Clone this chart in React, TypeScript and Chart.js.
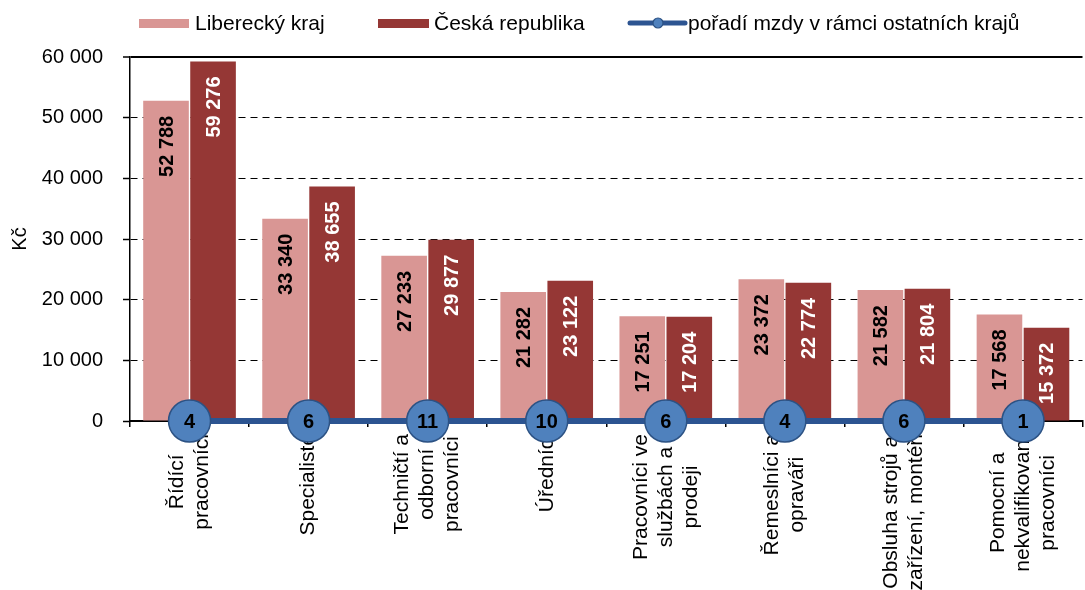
import React, { useEffect, useRef } from "react";
import { Chart, registerables } from "chart.js";

Chart.register(...registerables);

// ---------- data ----------
const categories: string[][] = [
  ["Řídící", "pracovníci"],
  ["Specialisté"],
  ["Techničtí a", "odborní", "pracovníci"],
  ["Úředníci"],
  ["Pracovníci ve", "službách a", "prodeji"],
  ["Řemeslníci a", "opraváři"],
  ["Obsluha strojů a", "zařízení, montéři"],
  ["Pomocní a", "nekvalifikovaní", "pracovníci"],
];
const liberecValues = [52788, 33340, 27233, 21282, 17251, 23372, 21582, 17568];
const czechValues = [59276, 38655, 29877, 23122, 17204, 22774, 21804, 15372];
const rankValues = [4, 6, 11, 10, 6, 4, 6, 1];
const rankLineLevel = [0, 0, 0, 0, 0, 0, 0, 0];
const seriesNames = ["Liberecký kraj", "Česká republika", "pořadí mzdy v rámci ostatních krajů"];
const yAxisTitle = "Kč";
const yMin = 0;
const yMax = 60000;
const yStep = 10000;

// ---------- styles ----------
const FONT = "'Liberation Sans', Arial, sans-serif";
const PINK = "#D99694";
const DARK = "#953735";
const BLUE = "#4F81BD";
const BLUE_LINE = "#2C5491";
const BLUE_BORDER = "#2C5284";

const fmt = (v: number) => String(Math.round(v)).replace(/\B(?=(\d{3})+(?!\d))/g, " ");

const xLabelPlugin = {
  id: "xLabels",
  beforeDatasetsDraw(chart: any) {
    const ctx = chart.ctx;
    const xs = chart.scales.x;
    const start = chart.chartArea.bottom + 13;
    ctx.save();
    ctx.font = `21px ${FONT}`;
    ctx.fillStyle = "#000";
    ctx.textAlign = "center";
    ctx.textBaseline = "middle";
    const lh = 25;
    categories.forEach((lines, i) => {
      const cx = xs.getPixelForValue(i);
      const maxW = Math.max(...lines.map((l) => ctx.measureText(l).width));
      const cy = start + maxW / 2;
      ctx.save();
      ctx.translate(cx, cy);
      ctx.rotate(-Math.PI / 2);
      lines.forEach((l, j) => {
        ctx.fillText(l, 0, (j - (lines.length - 1) / 2) * lh);
      });
      ctx.restore();
    });
    ctx.restore();
  },
};

const valueLabelPlugin = {
  id: "valueLabels",
  afterDatasetDraw(chart: any, args: any) {
    const meta = args.meta;
    const ctx = chart.ctx;
    const ds: any = chart.data.datasets[args.index];
    if (meta.type === "bar") {
      ctx.save();
      ctx.font = `bold 20px ${FONT}`;
      ctx.fillStyle = ds.labelColor;
      ctx.textAlign = "right";
      ctx.textBaseline = "middle";
      meta.data.forEach((el: any, i: number) => {
        const { x, y } = el.getProps(["x", "y"], true);
        ctx.save();
        ctx.translate(x, y + 15);
        ctx.rotate(-Math.PI / 2);
        ctx.fillText(fmt(ds.data[i]), 0, 1);
        ctx.restore();
      });
      ctx.restore();
    } else if (meta.type === "line") {
      ctx.save();
      ctx.font = `bold 20px ${FONT}`;
      ctx.fillStyle = "#000";
      ctx.textAlign = "center";
      ctx.textBaseline = "middle";
      meta.data.forEach((el: any, i: number) => {
        const { x, y } = el.getProps(["x", "y"], true);
        ctx.fillText(String(rankValues[i]), x, y + 1);
      });
      ctx.restore();
    }
  },
};

const legendPlugin = {
  id: "customLegend",
  afterDraw(chart: any) {
    const ctx = chart.ctx;
    ctx.save();
    ctx.font = `21px ${FONT}`;
    ctx.fillStyle = "#000";
    ctx.textAlign = "left";
    ctx.textBaseline = "alphabetic";
    // item 1
    ctx.fillStyle = PINK;
    ctx.fillRect(139, 19, 50, 9);
    ctx.fillStyle = "#000";
    ctx.fillText(seriesNames[0], 195, 30);
    // item 2
    ctx.fillStyle = DARK;
    ctx.fillRect(378, 19, 51, 9);
    ctx.fillStyle = "#000";
    ctx.fillText(seriesNames[1], 434, 30);
    // item 3
    ctx.strokeStyle = BLUE_LINE;
    ctx.lineWidth = 5;
    ctx.lineCap = "round";
    ctx.beginPath();
    ctx.moveTo(630, 23);
    ctx.lineTo(685, 23);
    ctx.stroke();
    ctx.beginPath();
    ctx.arc(658, 23, 5, 0, Math.PI * 2);
    ctx.fillStyle = BLUE;
    ctx.fill();
    ctx.lineWidth = 1.2;
    ctx.strokeStyle = BLUE_BORDER;
    ctx.stroke();
    ctx.fillStyle = "#000";
    ctx.fillText(seriesNames[2], 688, 30);
    ctx.restore();
  },
};

export default function App() {
  const ref = useRef<HTMLCanvasElement | null>(null);

  useEffect(() => {
    if (!ref.current) return;
    const chart = new Chart(ref.current, {
      type: "bar",
      data: {
        labels: categories,
        datasets: [
          {
            type: "line",
            label: seriesNames[2],
            data: rankLineLevel,
            borderColor: BLUE_LINE,
            borderWidth: 6,
            pointRadius: 21,
            pointBackgroundColor: BLUE,
            pointBorderColor: BLUE_BORDER,
            pointBorderWidth: 1.5,
            order: 0,
            clip: false,
            tension: 0,
          } as any,
          {
            type: "bar",
            label: seriesNames[0],
            data: liberecValues,
            backgroundColor: PINK,
            borderWidth: 0,
            barPercentage: 0.97,
            categoryPercentage: 0.79,
            order: 1,
            labelColor: "#000",
          } as any,
          {
            type: "bar",
            label: seriesNames[1],
            data: czechValues,
            backgroundColor: DARK,
            borderWidth: 0,
            barPercentage: 0.97,
            categoryPercentage: 0.79,
            order: 1,
            labelColor: "#fff",
          } as any,
        ],
      },
      options: {
        responsive: false,
        animation: false,
        events: [],
        layout: { padding: { top: 57, right: 9, left: 0, bottom: 0 } },
        plugins: {
          legend: { display: false },
          tooltip: { enabled: false },
        },
        scales: {
          x: {
            type: "category",
            offset: true,
            grid: {
              display: true,
              drawOnChartArea: false,
              drawTicks: true,
              tickLength: 6,
              color: "#000",
              lineWidth: 1.5,
              offset: true,
            },
            border: { display: true, color: "#000", width: 2 },
            ticks: { display: false },
            afterFit: (s: any) => {
              s.height = 169;
            },
          },
          y: {
            min: yMin,
            max: yMax,
            ticks: {
              stepSize: yStep,
              font: { size: 20, family: FONT },
              color: "#000",
              padding: 20,
              callback: (v: any) => fmt(Number(v)),
            },
            grid: {
              color: (c: any) => (c.tick && c.tick.value === yMin ? "rgba(0,0,0,0)" : "#000"),
              lineWidth: (c: any) => (c.tick && c.tick.value === yMax ? 2 : 1),
              tickColor: "#000",
              tickLength: 7,
              tickWidth: 1.5,
            },
            border: {
              display: true,
              color: "#000",
              width: 1.5,
              dash: (c: any) => (c.tick && c.tick.value === yMax ? [] : [7, 5]),
            },
            title: {
              display: true,
              text: yAxisTitle,
              font: { size: 20, family: FONT },
              color: "#000",
              padding: { top: 8, bottom: 0 },
            },
            afterFit: (s: any) => {
              s.width = 130;
            },
          },
        },
      } as any,
      plugins: [xLabelPlugin, valueLabelPlugin, legendPlugin],
    });
    return () => chart.destroy();
  }, []);

  return (
    <div
      style={{
        position: "fixed",
        left: 0,
        top: 0,
        width: 1085,
        height: 590,
        overflow: "hidden",
        background: "#fff",
      }}
    >
      <canvas ref={ref} width={1105} height={590} style={{ display: "block" }} />
    </div>
  );
}
